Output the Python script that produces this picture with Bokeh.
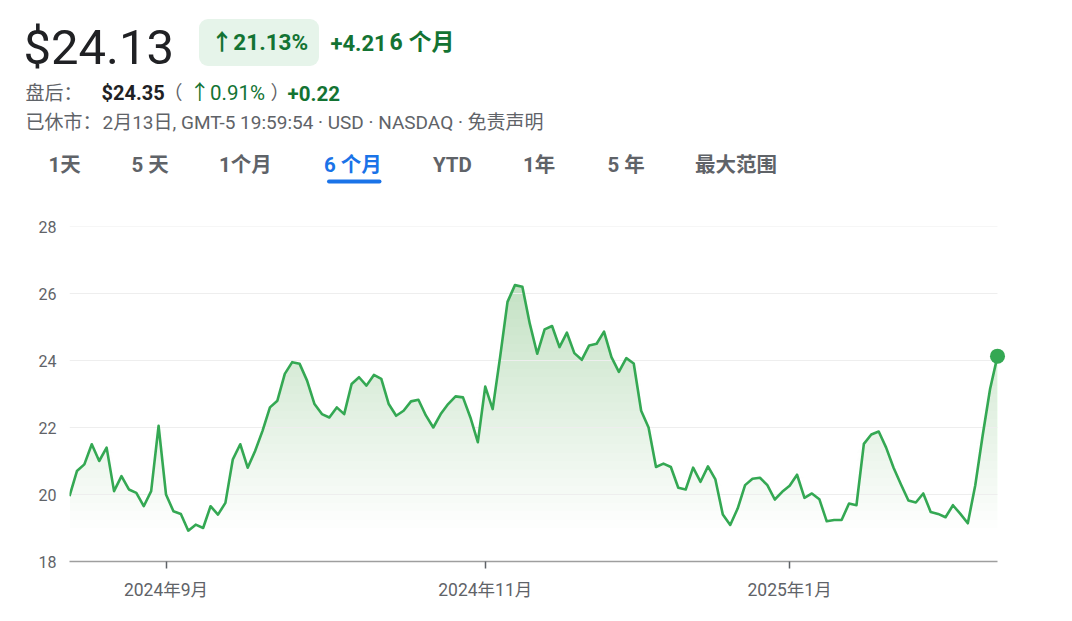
import numpy as np
from bokeh.plotting import figure
from bokeh.models import Label, FixedTicker, Range1d, BoxAnnotation
from bokeh.embed import file_html
from bokeh.resources import INLINE

# ---------------- data ----------------
prices = [
    19.95, 20.7, 20.9, 21.5, 21.0, 21.4, 20.1, 20.55, 20.15, 20.05,
    19.65, 20.1, 22.05, 20.0, 19.5, 19.42, 18.92, 19.1, 19.0, 19.65,
    19.4, 19.75, 21.05, 21.5, 20.8, 21.3, 21.9, 22.6, 22.8, 23.6,
    23.95, 23.9, 23.4, 22.7, 22.4, 22.3, 22.6, 22.4, 23.3, 23.5,
    23.25, 23.57, 23.45, 22.7, 22.35, 22.5, 22.78, 22.83, 22.36, 22.0,
    22.4, 22.7, 22.93, 22.9, 22.3, 21.56, 23.22, 22.55, 24.1, 25.75,
    26.25, 26.2, 25.1, 24.2, 24.93, 25.03, 24.4, 24.83, 24.22, 24.02,
    24.45, 24.5, 24.86, 24.1, 23.66, 24.07, 23.91, 22.5, 22.0, 20.82,
    20.92, 20.82, 20.2, 20.15, 20.8, 20.38, 20.84, 20.45, 19.4, 19.09,
    19.58, 20.28, 20.47, 20.5, 20.28, 19.85, 20.08, 20.26, 20.59, 19.9,
    20.03, 19.86, 19.2, 19.24, 19.24, 19.73, 19.68, 21.51, 21.79, 21.88,
    21.4, 20.8, 20.3, 19.82, 19.76, 20.03, 19.48, 19.42, 19.32, 19.68,
    19.42, 19.14, 20.27, 21.76, 23.15, 24.13,
]
day_index = list(range(len(prices)))          # trading-day index
month_tick_index = [13, 56, 97]
month_tick_labels = ["2024年9月", "2024年11月", "2025年1月"]
price_ticks = [18, 20, 22, 24, 26, 28]

header_price = "$24.13"
change_pct = "↑21.13%"
change_abs = "+4.21"
period_text = "6 个月"
after_label = "盘后："
after_price = "$24.35"
after_pct = "↑0.91%"
after_abs = "+0.22"
status_label = "已休市："
status_text = "2月13日, GMT-5 19:59:54 · USD · NASDAQ · 免责声明"
tabs = ["1天", "5 天", "1个月", "6 个月", "YTD", "1年", "5 年", "最大范围"]
selected_tab = "6 个月"

# ---------------- styling / layout ----------------
FONT = "Roboto, 'Noto Sans CJK SC', sans-serif"
GREEN = "#34a853"
DKGREEN = "#137333"
GRAY = "#5f6368"
DARK = "#202124"
BLUE = "#1a73e8"

W = 1070
HEAD_H = 200
CHART_H = 419

# ---------------- header figure (data units == page pixels) ----------------
hd = figure(width=W, height=HEAD_H, output_backend="svg", toolbar_location=None,
            x_range=Range1d(0, W), y_range=Range1d(HEAD_H, 0),
            x_axis_location=None, y_axis_location=None,
            min_border=0, min_border_left=0, min_border_right=0,
            min_border_top=0, min_border_bottom=0)
hd.outline_line_color = None
hd.grid.visible = False
hd.background_fill_color = "white"
hd.border_fill_color = "white"

BASE_SHIFT = 0.36   # measured offset of the rendered baseline (fraction of font size)


def lab(txt, px, baseline, size, color, style="normal", align="left"):
    hd.add_layout(Label(x=px, y=baseline - BASE_SHIFT * size, text=txt, text_font=FONT,
                        text_font_size=f"{size}px",
                        text_color=color, text_font_style=style,
                        text_align=align, text_baseline="alphabetic"))


lab(header_price, 23, 65, 49, DARK)

hd.add_layout(BoxAnnotation(left=198.5, right=318.5, top=18.5, bottom=65.5,
                            fill_color="#e6f4ea", fill_alpha=1.0, line_color=None,
                            border_radius=9, level="underlay"))
lab(change_pct, 259, 50, 22.5, DKGREEN, "bold", align="center")
lab(change_abs, 330, 50, 22, DKGREEN, "bold")
lab(period_text, 389, 50, 23, DKGREEN, "bold")

lab(after_label, 25, 100, 19, GRAY)
lab(after_price, 101, 100, 20, DARK, "bold")
lab("（", 163, 100, 19, GRAY)
lab(after_pct, 189, 100, 20.5, DKGREEN)
lab("）", 270, 100, 19, GRAY)
lab(after_abs, 287, 100, 20.5, DKGREEN, "bold")

lab(status_label, 25, 129, 19, GRAY)
lab(status_text, 102, 129, 19, GRAY)

tab_x = [48, 131, 218.5, 323.5, 432.5, 522.5, 607, 694.5]
for t, tx in zip(tabs, tab_x):
    col = BLUE if t == selected_tab else GRAY
    lab(t, tx, 172, 20.5, col, "bold")

hd.add_layout(BoxAnnotation(left=326.5, right=381, top=179, bottom=183,
                            fill_color=BLUE, fill_alpha=1.0, line_color=None,
                            border_radius=2, level="underlay"))

# ---------------- chart figure ----------------
LEFT = 69
FRAME_TOP = 226 - HEAD_H
FRAME_H = 335
BOTTOM = CHART_H - FRAME_TOP - FRAME_H
DATA_W = 928          # pixels spanned by the data
FRAME_W = 937         # a bit wider so the end dot is not clipped
RIGHT = W - LEFT - FRAME_W

n = len(prices)
x_end = (n - 1) * FRAME_W / DATA_W

p = figure(width=W, height=CHART_H, output_backend="svg", toolbar_location=None,
           x_range=Range1d(0, x_end), y_range=Range1d(price_ticks[0], price_ticks[-1]),
           min_border_left=LEFT, min_border_right=RIGHT,
           min_border_top=FRAME_TOP, min_border_bottom=BOTTOM)
p.outline_line_color = None
p.background_fill_color = "white"
p.border_fill_color = "white"
p.xgrid.visible = False
p.ygrid.visible = False

# x axis
xa = p.xaxis[0]
xa.ticker = FixedTicker(ticks=month_tick_index)
xa.major_label_overrides = {i: s for i, s in zip(month_tick_index, month_tick_labels)}
xa.bounds = (0, n - 1)
xa.axis_line_color = "#9e9e9e"
xa.axis_line_width = 1.5
xa.major_tick_line_color = GRAY
xa.major_tick_line_width = 1.5
xa.major_tick_out = 7
xa.major_tick_in = 0
xa.minor_tick_line_color = None
xa.major_label_standoff = 11
xa.major_label_text_font = FONT
xa.major_label_text_font_size = "17.5px"
xa.major_label_text_color = GRAY

# y axis
ya = p.yaxis[0]
ya.ticker = FixedTicker(ticks=price_ticks)
ya.axis_line_color = None
ya.major_tick_line_color = None
ya.major_tick_out = 0
ya.major_tick_in = 0
ya.minor_tick_line_color = None
ya.major_label_standoff = 13
ya.major_label_text_font = FONT
ya.major_label_text_font_size = "16px"
ya.major_label_text_color = GRAY

# gradient-like fill under the line (stacked translucent layers)
prices_arr = np.array(prices)
levels = np.arange(19.0, max(prices) + 0.01, 0.25)
for t in levels:
    p.varea(x=day_index, y1=t, y2=np.maximum(prices_arr, t),
            fill_color=GREEN, fill_alpha=0.0105)

# horizontal grid lines
p.segment(x0=0, x1=n - 1, y0=price_ticks[1:], y1=price_ticks[1:],
          line_color="#eeeeee", line_width=1)

# price line and end dot
p.line(day_index, prices, line_color=GREEN, line_width=2.6, line_join="round")
p.scatter(x=[day_index[-1]], y=[prices[-1]], size=15, fill_color=GREEN, line_color=None)

open("out.html", "w").write(file_html([hd, p], INLINE))
